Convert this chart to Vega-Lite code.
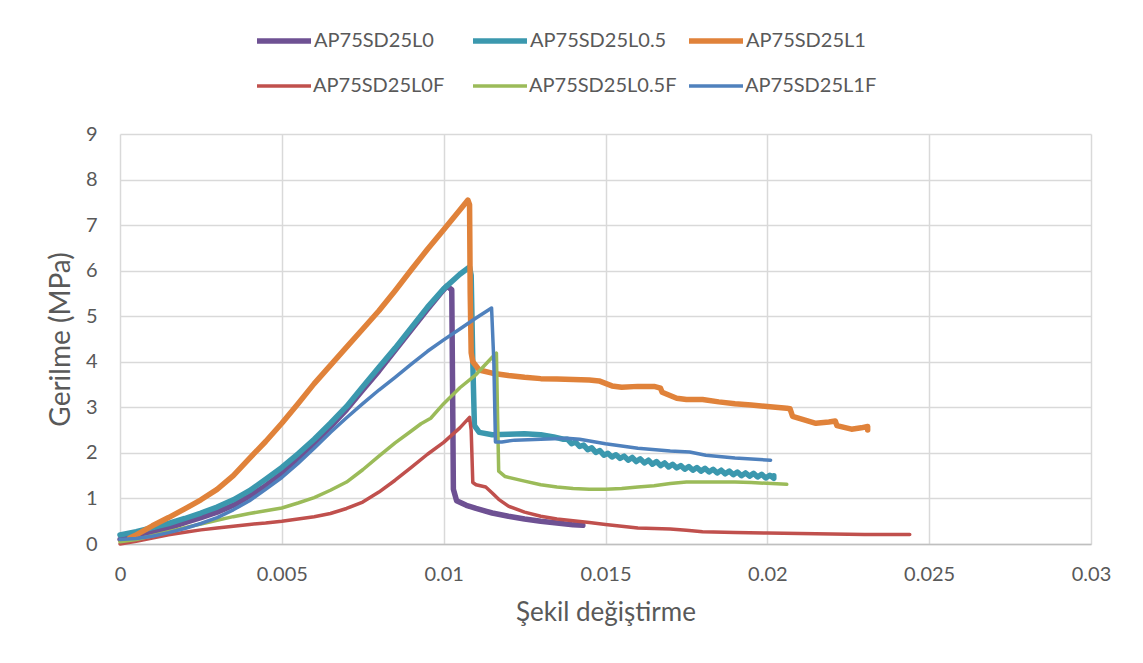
{
  "$schema": "https://vega.github.io/schema/vega-lite/v6.json",
  "width": 971,
  "height": 410,
  "autosize": "none",
  "padding": {"left": 120, "top": 134, "right": 52, "bottom": 119},
  "background": "white",
  "config": {
    "font": "Lato",
    "view": {"stroke": null},
    "axis": {
      "labelFont": "Lato",
      "labelFontSize": 20,
      "labelColor": "#595959",
      "titleFont": "Lato",
      "titleColor": "#595959",
      "titleFontWeight": "normal",
      "gridColor": "#D9D9D9",
      "gridWidth": 1.5,
      "ticks": false
    },
    "legend": {
      "title": null,
      "orient": "none",
      "direction": "horizontal",
      "columns": 3,
      "gridAlign": "all",
      "symbolType": "stroke",
      "symbolSize": 2916,
      "labelFontSize": 20,
      "labelColor": "#595959",
      "labelFont": "Lato",
      "labelOffset": 0,
      "labelLimit": 300
    }
  },
  "data": {
    "values": [
      {"s": "AP75SD25L0", "x": 0, "y": 0.1},
      {"s": "AP75SD25L0", "x": 0.0005, "y": 0.15},
      {"s": "AP75SD25L0", "x": 0.001, "y": 0.25},
      {"s": "AP75SD25L0", "x": 0.0015, "y": 0.35},
      {"s": "AP75SD25L0", "x": 0.002, "y": 0.47},
      {"s": "AP75SD25L0", "x": 0.0025, "y": 0.58},
      {"s": "AP75SD25L0", "x": 0.003, "y": 0.7},
      {"s": "AP75SD25L0", "x": 0.0035, "y": 0.85},
      {"s": "AP75SD25L0", "x": 0.004, "y": 1.05},
      {"s": "AP75SD25L0", "x": 0.0045, "y": 1.28},
      {"s": "AP75SD25L0", "x": 0.005, "y": 1.55},
      {"s": "AP75SD25L0", "x": 0.0055, "y": 1.85},
      {"s": "AP75SD25L0", "x": 0.006, "y": 2.2},
      {"s": "AP75SD25L0", "x": 0.0065, "y": 2.57},
      {"s": "AP75SD25L0", "x": 0.007, "y": 2.95},
      {"s": "AP75SD25L0", "x": 0.0075, "y": 3.38},
      {"s": "AP75SD25L0", "x": 0.008, "y": 3.8},
      {"s": "AP75SD25L0", "x": 0.0085, "y": 4.25},
      {"s": "AP75SD25L0", "x": 0.009, "y": 4.7},
      {"s": "AP75SD25L0", "x": 0.0095, "y": 5.15},
      {"s": "AP75SD25L0", "x": 0.0099, "y": 5.5},
      {"s": "AP75SD25L0", "x": 0.0101, "y": 5.66},
      {"s": "AP75SD25L0", "x": 0.01025, "y": 5.58},
      {"s": "AP75SD25L0", "x": 0.01028, "y": 3.0},
      {"s": "AP75SD25L0", "x": 0.0103, "y": 1.2},
      {"s": "AP75SD25L0", "x": 0.0104, "y": 0.95},
      {"s": "AP75SD25L0", "x": 0.0107, "y": 0.85},
      {"s": "AP75SD25L0", "x": 0.011, "y": 0.78},
      {"s": "AP75SD25L0", "x": 0.0115, "y": 0.68},
      {"s": "AP75SD25L0", "x": 0.012, "y": 0.61},
      {"s": "AP75SD25L0", "x": 0.0125, "y": 0.55},
      {"s": "AP75SD25L0", "x": 0.013, "y": 0.5},
      {"s": "AP75SD25L0", "x": 0.0135, "y": 0.46},
      {"s": "AP75SD25L0", "x": 0.014, "y": 0.42},
      {"s": "AP75SD25L0", "x": 0.0143, "y": 0.41},

      {"s": "AP75SD25L0.5", "x": 0, "y": 0.2},
      {"s": "AP75SD25L0.5", "x": 0.0005, "y": 0.27},
      {"s": "AP75SD25L0.5", "x": 0.001, "y": 0.36},
      {"s": "AP75SD25L0.5", "x": 0.0015, "y": 0.45},
      {"s": "AP75SD25L0.5", "x": 0.002, "y": 0.56},
      {"s": "AP75SD25L0.5", "x": 0.0025, "y": 0.68},
      {"s": "AP75SD25L0.5", "x": 0.003, "y": 0.81},
      {"s": "AP75SD25L0.5", "x": 0.0035, "y": 0.97},
      {"s": "AP75SD25L0.5", "x": 0.004, "y": 1.17},
      {"s": "AP75SD25L0.5", "x": 0.0045, "y": 1.42},
      {"s": "AP75SD25L0.5", "x": 0.005, "y": 1.68},
      {"s": "AP75SD25L0.5", "x": 0.0055, "y": 1.98},
      {"s": "AP75SD25L0.5", "x": 0.006, "y": 2.3},
      {"s": "AP75SD25L0.5", "x": 0.0065, "y": 2.65},
      {"s": "AP75SD25L0.5", "x": 0.007, "y": 3.02},
      {"s": "AP75SD25L0.5", "x": 0.0075, "y": 3.45},
      {"s": "AP75SD25L0.5", "x": 0.008, "y": 3.88},
      {"s": "AP75SD25L0.5", "x": 0.0085, "y": 4.3},
      {"s": "AP75SD25L0.5", "x": 0.009, "y": 4.75},
      {"s": "AP75SD25L0.5", "x": 0.0095, "y": 5.2},
      {"s": "AP75SD25L0.5", "x": 0.01, "y": 5.6},
      {"s": "AP75SD25L0.5", "x": 0.0105, "y": 5.92},
      {"s": "AP75SD25L0.5", "x": 0.0108, "y": 6.08},
      {"s": "AP75SD25L0.5", "x": 0.01085, "y": 5.9},
      {"s": "AP75SD25L0.5", "x": 0.0109, "y": 4.0},
      {"s": "AP75SD25L0.5", "x": 0.01095, "y": 2.6},
      {"s": "AP75SD25L0.5", "x": 0.0111, "y": 2.45},
      {"s": "AP75SD25L0.5", "x": 0.0115, "y": 2.4},
      {"s": "AP75SD25L0.5", "x": 0.012, "y": 2.41},
      {"s": "AP75SD25L0.5", "x": 0.0125, "y": 2.42},
      {"s": "AP75SD25L0.5", "x": 0.013, "y": 2.4},
      {"s": "AP75SD25L0.5", "x": 0.0134, "y": 2.35},
      {"s": "AP75SD25L0.5", "x": 0.0137, "y": 2.3},
      {"s": "AP75SD25L0.5", "x": 0.013825, "y": 2.3},
      {"s": "AP75SD25L0.5", "x": 0.01395, "y": 2.2},
      {"s": "AP75SD25L0.5", "x": 0.014075, "y": 2.24},
      {"s": "AP75SD25L0.5", "x": 0.0142, "y": 2.14},
      {"s": "AP75SD25L0.5", "x": 0.014325, "y": 2.17},
      {"s": "AP75SD25L0.5", "x": 0.01445, "y": 2.07},
      {"s": "AP75SD25L0.5", "x": 0.014575, "y": 2.11},
      {"s": "AP75SD25L0.5", "x": 0.0147, "y": 2.01},
      {"s": "AP75SD25L0.5", "x": 0.014825, "y": 2.05},
      {"s": "AP75SD25L0.5", "x": 0.01495, "y": 1.95},
      {"s": "AP75SD25L0.5", "x": 0.015075, "y": 1.99},
      {"s": "AP75SD25L0.5", "x": 0.0152, "y": 1.91},
      {"s": "AP75SD25L0.5", "x": 0.015325, "y": 1.96},
      {"s": "AP75SD25L0.5", "x": 0.01545, "y": 1.88},
      {"s": "AP75SD25L0.5", "x": 0.015575, "y": 1.93},
      {"s": "AP75SD25L0.5", "x": 0.0157, "y": 1.84},
      {"s": "AP75SD25L0.5", "x": 0.015825, "y": 1.9},
      {"s": "AP75SD25L0.5", "x": 0.01595, "y": 1.81},
      {"s": "AP75SD25L0.5", "x": 0.016075, "y": 1.87},
      {"s": "AP75SD25L0.5", "x": 0.0162, "y": 1.78},
      {"s": "AP75SD25L0.5", "x": 0.016325, "y": 1.84},
      {"s": "AP75SD25L0.5", "x": 0.01645, "y": 1.75},
      {"s": "AP75SD25L0.5", "x": 0.016575, "y": 1.81},
      {"s": "AP75SD25L0.5", "x": 0.0167, "y": 1.72},
      {"s": "AP75SD25L0.5", "x": 0.016825, "y": 1.78},
      {"s": "AP75SD25L0.5", "x": 0.01695, "y": 1.69},
      {"s": "AP75SD25L0.5", "x": 0.017075, "y": 1.75},
      {"s": "AP75SD25L0.5", "x": 0.0172, "y": 1.67},
      {"s": "AP75SD25L0.5", "x": 0.017325, "y": 1.72},
      {"s": "AP75SD25L0.5", "x": 0.01745, "y": 1.64},
      {"s": "AP75SD25L0.5", "x": 0.017575, "y": 1.7},
      {"s": "AP75SD25L0.5", "x": 0.0177, "y": 1.62},
      {"s": "AP75SD25L0.5", "x": 0.017825, "y": 1.68},
      {"s": "AP75SD25L0.5", "x": 0.01795, "y": 1.6},
      {"s": "AP75SD25L0.5", "x": 0.018075, "y": 1.66},
      {"s": "AP75SD25L0.5", "x": 0.0182, "y": 1.58},
      {"s": "AP75SD25L0.5", "x": 0.018325, "y": 1.64},
      {"s": "AP75SD25L0.5", "x": 0.01845, "y": 1.56},
      {"s": "AP75SD25L0.5", "x": 0.018575, "y": 1.62},
      {"s": "AP75SD25L0.5", "x": 0.0187, "y": 1.54},
      {"s": "AP75SD25L0.5", "x": 0.018825, "y": 1.6},
      {"s": "AP75SD25L0.5", "x": 0.01895, "y": 1.52},
      {"s": "AP75SD25L0.5", "x": 0.019075, "y": 1.58},
      {"s": "AP75SD25L0.5", "x": 0.0192, "y": 1.5},
      {"s": "AP75SD25L0.5", "x": 0.019325, "y": 1.56},
      {"s": "AP75SD25L0.5", "x": 0.01945, "y": 1.49},
      {"s": "AP75SD25L0.5", "x": 0.019575, "y": 1.55},
      {"s": "AP75SD25L0.5", "x": 0.0197, "y": 1.47},
      {"s": "AP75SD25L0.5", "x": 0.019825, "y": 1.53},
      {"s": "AP75SD25L0.5", "x": 0.01995, "y": 1.45},
      {"s": "AP75SD25L0.5", "x": 0.020075, "y": 1.51},
      {"s": "AP75SD25L0.5", "x": 0.0202, "y": 1.44},
      {"s": "AP75SD25L0.5", "x": 0.0202, "y": 1.5},

      {"s": "AP75SD25L1", "x": 0.0003, "y": 0.13},
      {"s": "AP75SD25L1", "x": 0.0005, "y": 0.2},
      {"s": "AP75SD25L1", "x": 0.001, "y": 0.4},
      {"s": "AP75SD25L1", "x": 0.0015, "y": 0.58},
      {"s": "AP75SD25L1", "x": 0.002, "y": 0.77},
      {"s": "AP75SD25L1", "x": 0.0025, "y": 0.97},
      {"s": "AP75SD25L1", "x": 0.003, "y": 1.2},
      {"s": "AP75SD25L1", "x": 0.0035, "y": 1.5},
      {"s": "AP75SD25L1", "x": 0.004, "y": 1.88},
      {"s": "AP75SD25L1", "x": 0.0045, "y": 2.25},
      {"s": "AP75SD25L1", "x": 0.005, "y": 2.65},
      {"s": "AP75SD25L1", "x": 0.0055, "y": 3.08},
      {"s": "AP75SD25L1", "x": 0.006, "y": 3.52},
      {"s": "AP75SD25L1", "x": 0.0065, "y": 3.92},
      {"s": "AP75SD25L1", "x": 0.007, "y": 4.32},
      {"s": "AP75SD25L1", "x": 0.0075, "y": 4.72},
      {"s": "AP75SD25L1", "x": 0.008, "y": 5.12},
      {"s": "AP75SD25L1", "x": 0.0085, "y": 5.56},
      {"s": "AP75SD25L1", "x": 0.009, "y": 6.02},
      {"s": "AP75SD25L1", "x": 0.0095, "y": 6.47},
      {"s": "AP75SD25L1", "x": 0.01, "y": 6.9},
      {"s": "AP75SD25L1", "x": 0.0105, "y": 7.33},
      {"s": "AP75SD25L1", "x": 0.01075, "y": 7.55},
      {"s": "AP75SD25L1", "x": 0.0108, "y": 7.45},
      {"s": "AP75SD25L1", "x": 0.01082, "y": 5.5},
      {"s": "AP75SD25L1", "x": 0.01085, "y": 4.2},
      {"s": "AP75SD25L1", "x": 0.0109, "y": 4.0},
      {"s": "AP75SD25L1", "x": 0.0111, "y": 3.82},
      {"s": "AP75SD25L1", "x": 0.0115, "y": 3.75},
      {"s": "AP75SD25L1", "x": 0.012, "y": 3.7},
      {"s": "AP75SD25L1", "x": 0.0125, "y": 3.66},
      {"s": "AP75SD25L1", "x": 0.013, "y": 3.63},
      {"s": "AP75SD25L1", "x": 0.0135, "y": 3.62},
      {"s": "AP75SD25L1", "x": 0.014, "y": 3.61},
      {"s": "AP75SD25L1", "x": 0.0145, "y": 3.6},
      {"s": "AP75SD25L1", "x": 0.0148, "y": 3.58},
      {"s": "AP75SD25L1", "x": 0.0152, "y": 3.47},
      {"s": "AP75SD25L1", "x": 0.0155, "y": 3.44},
      {"s": "AP75SD25L1", "x": 0.016, "y": 3.46},
      {"s": "AP75SD25L1", "x": 0.0165, "y": 3.46},
      {"s": "AP75SD25L1", "x": 0.0167, "y": 3.42},
      {"s": "AP75SD25L1", "x": 0.01675, "y": 3.33},
      {"s": "AP75SD25L1", "x": 0.0172, "y": 3.2},
      {"s": "AP75SD25L1", "x": 0.0175, "y": 3.17},
      {"s": "AP75SD25L1", "x": 0.018, "y": 3.17},
      {"s": "AP75SD25L1", "x": 0.0185, "y": 3.12},
      {"s": "AP75SD25L1", "x": 0.019, "y": 3.08},
      {"s": "AP75SD25L1", "x": 0.0195, "y": 3.05},
      {"s": "AP75SD25L1", "x": 0.02, "y": 3.02},
      {"s": "AP75SD25L1", "x": 0.0206, "y": 2.98},
      {"s": "AP75SD25L1", "x": 0.0207, "y": 2.97},
      {"s": "AP75SD25L1", "x": 0.02078, "y": 2.8},
      {"s": "AP75SD25L1", "x": 0.0215, "y": 2.65},
      {"s": "AP75SD25L1", "x": 0.0219, "y": 2.68},
      {"s": "AP75SD25L1", "x": 0.0221, "y": 2.7},
      {"s": "AP75SD25L1", "x": 0.02215, "y": 2.6},
      {"s": "AP75SD25L1", "x": 0.0226, "y": 2.52},
      {"s": "AP75SD25L1", "x": 0.0229, "y": 2.55},
      {"s": "AP75SD25L1", "x": 0.0231, "y": 2.58},
      {"s": "AP75SD25L1", "x": 0.0231, "y": 2.5},

      {"s": "AP75SD25L0F", "x": 0, "y": 0},
      {"s": "AP75SD25L0F", "x": 0.0005, "y": 0.06},
      {"s": "AP75SD25L0F", "x": 0.001, "y": 0.13},
      {"s": "AP75SD25L0F", "x": 0.0015, "y": 0.2},
      {"s": "AP75SD25L0F", "x": 0.002, "y": 0.26},
      {"s": "AP75SD25L0F", "x": 0.0025, "y": 0.31},
      {"s": "AP75SD25L0F", "x": 0.003, "y": 0.35},
      {"s": "AP75SD25L0F", "x": 0.0035, "y": 0.39},
      {"s": "AP75SD25L0F", "x": 0.004, "y": 0.43},
      {"s": "AP75SD25L0F", "x": 0.0045, "y": 0.46},
      {"s": "AP75SD25L0F", "x": 0.005, "y": 0.5},
      {"s": "AP75SD25L0F", "x": 0.0055, "y": 0.55},
      {"s": "AP75SD25L0F", "x": 0.006, "y": 0.6},
      {"s": "AP75SD25L0F", "x": 0.0065, "y": 0.67},
      {"s": "AP75SD25L0F", "x": 0.007, "y": 0.78},
      {"s": "AP75SD25L0F", "x": 0.0075, "y": 0.92},
      {"s": "AP75SD25L0F", "x": 0.008, "y": 1.14},
      {"s": "AP75SD25L0F", "x": 0.0085, "y": 1.4},
      {"s": "AP75SD25L0F", "x": 0.009, "y": 1.68},
      {"s": "AP75SD25L0F", "x": 0.0095, "y": 1.97},
      {"s": "AP75SD25L0F", "x": 0.01, "y": 2.23},
      {"s": "AP75SD25L0F", "x": 0.0105, "y": 2.55},
      {"s": "AP75SD25L0F", "x": 0.0108, "y": 2.78},
      {"s": "AP75SD25L0F", "x": 0.01085, "y": 2.5},
      {"s": "AP75SD25L0F", "x": 0.0109, "y": 1.35},
      {"s": "AP75SD25L0F", "x": 0.011, "y": 1.3},
      {"s": "AP75SD25L0F", "x": 0.0113, "y": 1.25},
      {"s": "AP75SD25L0F", "x": 0.0115, "y": 1.12},
      {"s": "AP75SD25L0F", "x": 0.0117, "y": 0.98},
      {"s": "AP75SD25L0F", "x": 0.012, "y": 0.83},
      {"s": "AP75SD25L0F", "x": 0.0125, "y": 0.7},
      {"s": "AP75SD25L0F", "x": 0.013, "y": 0.61},
      {"s": "AP75SD25L0F", "x": 0.0135, "y": 0.55},
      {"s": "AP75SD25L0F", "x": 0.014, "y": 0.51},
      {"s": "AP75SD25L0F", "x": 0.0145, "y": 0.47},
      {"s": "AP75SD25L0F", "x": 0.015, "y": 0.43},
      {"s": "AP75SD25L0F", "x": 0.0155, "y": 0.39},
      {"s": "AP75SD25L0F", "x": 0.016, "y": 0.35},
      {"s": "AP75SD25L0F", "x": 0.0165, "y": 0.34},
      {"s": "AP75SD25L0F", "x": 0.017, "y": 0.33},
      {"s": "AP75SD25L0F", "x": 0.0175, "y": 0.3},
      {"s": "AP75SD25L0F", "x": 0.018, "y": 0.27},
      {"s": "AP75SD25L0F", "x": 0.019, "y": 0.25},
      {"s": "AP75SD25L0F", "x": 0.02, "y": 0.24},
      {"s": "AP75SD25L0F", "x": 0.021, "y": 0.23},
      {"s": "AP75SD25L0F", "x": 0.022, "y": 0.22},
      {"s": "AP75SD25L0F", "x": 0.023, "y": 0.21},
      {"s": "AP75SD25L0F", "x": 0.0244, "y": 0.21},

      {"s": "AP75SD25L0.5F", "x": 0, "y": 0.05},
      {"s": "AP75SD25L0.5F", "x": 0.0005, "y": 0.1},
      {"s": "AP75SD25L0.5F", "x": 0.001, "y": 0.18},
      {"s": "AP75SD25L0.5F", "x": 0.0015, "y": 0.27},
      {"s": "AP75SD25L0.5F", "x": 0.002, "y": 0.36},
      {"s": "AP75SD25L0.5F", "x": 0.0025, "y": 0.44},
      {"s": "AP75SD25L0.5F", "x": 0.003, "y": 0.52},
      {"s": "AP75SD25L0.5F", "x": 0.0035, "y": 0.6},
      {"s": "AP75SD25L0.5F", "x": 0.004, "y": 0.67},
      {"s": "AP75SD25L0.5F", "x": 0.0045, "y": 0.73},
      {"s": "AP75SD25L0.5F", "x": 0.005, "y": 0.79},
      {"s": "AP75SD25L0.5F", "x": 0.0055, "y": 0.9},
      {"s": "AP75SD25L0.5F", "x": 0.006, "y": 1.02},
      {"s": "AP75SD25L0.5F", "x": 0.0065, "y": 1.18},
      {"s": "AP75SD25L0.5F", "x": 0.007, "y": 1.36},
      {"s": "AP75SD25L0.5F", "x": 0.0075, "y": 1.63},
      {"s": "AP75SD25L0.5F", "x": 0.008, "y": 1.93},
      {"s": "AP75SD25L0.5F", "x": 0.0085, "y": 2.22},
      {"s": "AP75SD25L0.5F", "x": 0.009, "y": 2.48},
      {"s": "AP75SD25L0.5F", "x": 0.0093, "y": 2.64},
      {"s": "AP75SD25L0.5F", "x": 0.0096, "y": 2.76},
      {"s": "AP75SD25L0.5F", "x": 0.01, "y": 3.08},
      {"s": "AP75SD25L0.5F", "x": 0.0105, "y": 3.43},
      {"s": "AP75SD25L0.5F", "x": 0.011, "y": 3.72},
      {"s": "AP75SD25L0.5F", "x": 0.0115, "y": 4.1},
      {"s": "AP75SD25L0.5F", "x": 0.01163, "y": 4.19},
      {"s": "AP75SD25L0.5F", "x": 0.01166, "y": 3.0},
      {"s": "AP75SD25L0.5F", "x": 0.0117, "y": 1.6},
      {"s": "AP75SD25L0.5F", "x": 0.0119, "y": 1.48},
      {"s": "AP75SD25L0.5F", "x": 0.0125, "y": 1.38},
      {"s": "AP75SD25L0.5F", "x": 0.013, "y": 1.3},
      {"s": "AP75SD25L0.5F", "x": 0.0135, "y": 1.25},
      {"s": "AP75SD25L0.5F", "x": 0.014, "y": 1.22},
      {"s": "AP75SD25L0.5F", "x": 0.0145, "y": 1.2},
      {"s": "AP75SD25L0.5F", "x": 0.015, "y": 1.2},
      {"s": "AP75SD25L0.5F", "x": 0.0155, "y": 1.22},
      {"s": "AP75SD25L0.5F", "x": 0.016, "y": 1.25},
      {"s": "AP75SD25L0.5F", "x": 0.0165, "y": 1.28},
      {"s": "AP75SD25L0.5F", "x": 0.017, "y": 1.33},
      {"s": "AP75SD25L0.5F", "x": 0.0175, "y": 1.36},
      {"s": "AP75SD25L0.5F", "x": 0.018, "y": 1.36},
      {"s": "AP75SD25L0.5F", "x": 0.0185, "y": 1.36},
      {"s": "AP75SD25L0.5F", "x": 0.019, "y": 1.36},
      {"s": "AP75SD25L0.5F", "x": 0.0195, "y": 1.35},
      {"s": "AP75SD25L0.5F", "x": 0.0206, "y": 1.31},

      {"s": "AP75SD25L1F", "x": 0, "y": 0.1},
      {"s": "AP75SD25L1F", "x": 0.0005, "y": 0.12},
      {"s": "AP75SD25L1F", "x": 0.001, "y": 0.17},
      {"s": "AP75SD25L1F", "x": 0.0015, "y": 0.25},
      {"s": "AP75SD25L1F", "x": 0.002, "y": 0.34},
      {"s": "AP75SD25L1F", "x": 0.0025, "y": 0.45},
      {"s": "AP75SD25L1F", "x": 0.003, "y": 0.58},
      {"s": "AP75SD25L1F", "x": 0.0035, "y": 0.75},
      {"s": "AP75SD25L1F", "x": 0.004, "y": 0.95},
      {"s": "AP75SD25L1F", "x": 0.0045, "y": 1.2},
      {"s": "AP75SD25L1F", "x": 0.005, "y": 1.46},
      {"s": "AP75SD25L1F", "x": 0.0055, "y": 1.77},
      {"s": "AP75SD25L1F", "x": 0.006, "y": 2.1},
      {"s": "AP75SD25L1F", "x": 0.0065, "y": 2.45},
      {"s": "AP75SD25L1F", "x": 0.007, "y": 2.77},
      {"s": "AP75SD25L1F", "x": 0.0075, "y": 3.08},
      {"s": "AP75SD25L1F", "x": 0.008, "y": 3.38},
      {"s": "AP75SD25L1F", "x": 0.0085, "y": 3.66},
      {"s": "AP75SD25L1F", "x": 0.009, "y": 3.95},
      {"s": "AP75SD25L1F", "x": 0.0095, "y": 4.23},
      {"s": "AP75SD25L1F", "x": 0.01, "y": 4.48},
      {"s": "AP75SD25L1F", "x": 0.0105, "y": 4.72},
      {"s": "AP75SD25L1F", "x": 0.011, "y": 4.96},
      {"s": "AP75SD25L1F", "x": 0.01148, "y": 5.18},
      {"s": "AP75SD25L1F", "x": 0.01155, "y": 4.0},
      {"s": "AP75SD25L1F", "x": 0.0116, "y": 2.24},
      {"s": "AP75SD25L1F", "x": 0.0118, "y": 2.24},
      {"s": "AP75SD25L1F", "x": 0.0122, "y": 2.28},
      {"s": "AP75SD25L1F", "x": 0.013, "y": 2.3},
      {"s": "AP75SD25L1F", "x": 0.0138, "y": 2.32},
      {"s": "AP75SD25L1F", "x": 0.0142, "y": 2.3},
      {"s": "AP75SD25L1F", "x": 0.015, "y": 2.2},
      {"s": "AP75SD25L1F", "x": 0.016, "y": 2.1},
      {"s": "AP75SD25L1F", "x": 0.017, "y": 2.04},
      {"s": "AP75SD25L1F", "x": 0.0176, "y": 2.02},
      {"s": "AP75SD25L1F", "x": 0.0181, "y": 1.95},
      {"s": "AP75SD25L1F", "x": 0.019, "y": 1.89},
      {"s": "AP75SD25L1F", "x": 0.0201, "y": 1.84}
    ]
  },
  "encoding": {
    "x": {
      "field": "x",
      "type": "quantitative",
      "scale": {"domain": [0, 0.03], "nice": false},
      "axis": {
        "values": [0, 0.005, 0.01, 0.015, 0.02, 0.025, 0.03],
        "format": "~g",
        "title": "Şekil değiştirme",
        "titleFontSize": 26,
        "titlePadding": 15,
        "labelPadding": 20,
        "domainColor": "#BFBFBF",
        "domainWidth": 1.5,
        "labelFlush": false
      }
    },
    "y": {
      "field": "y",
      "type": "quantitative",
      "scale": {"domain": [0, 9], "nice": false},
      "axis": {
        "values": [0, 1, 2, 3, 4, 5, 6, 7, 8, 9],
        "title": "Gerilme (MPa)",
        "titleFontSize": 28,
        "titlePadding": 10,
        "labelPadding": 23,
        "domain": false
      }
    },
    "order": {"value": null}
  },
  "layer": [
    {
      "transform": [{"filter": "indexof(['AP75SD25L0','AP75SD25L0.5','AP75SD25L1'], datum.s) >= 0"}],
      "mark": {"type": "line", "strokeCap": "round", "strokeJoin": "round", "strokeWidth": 5.5},
      "encoding": {
        "color": {
          "field": "s",
          "type": "nominal",
          "scale": {
            "domain": ["AP75SD25L0", "AP75SD25L0.5", "AP75SD25L1"],
            "range": ["#6E5193", "#3B98AE", "#E0823A"]
          },
          "legend": {
            "legendX": 134,
            "legendY": -123,
            "symbolStrokeWidth": 5.5,
            "columnPadding": 11
          }
        }
      }
    },
    {
      "transform": [{"filter": "indexof(['AP75SD25L0F','AP75SD25L0.5F','AP75SD25L1F'], datum.s) >= 0"}],
      "mark": {"type": "line", "strokeCap": "round", "strokeJoin": "round", "strokeWidth": 3.5},
      "encoding": {
        "color": {
          "field": "s",
          "type": "nominal",
          "scale": {
            "domain": ["AP75SD25L0F", "AP75SD25L0.5F", "AP75SD25L1F"],
            "range": ["#C0504D", "#9BBB59", "#4F81BD"]
          },
          "legend": {
            "legendX": 135,
            "legendY": -77,
            "symbolStrokeWidth": 3.5,
            "columnPadding": 5
          }
        }
      }
    }
  ],
  "resolve": {"scale": {"color": "independent"}, "legend": {"color": "independent"}}
}
